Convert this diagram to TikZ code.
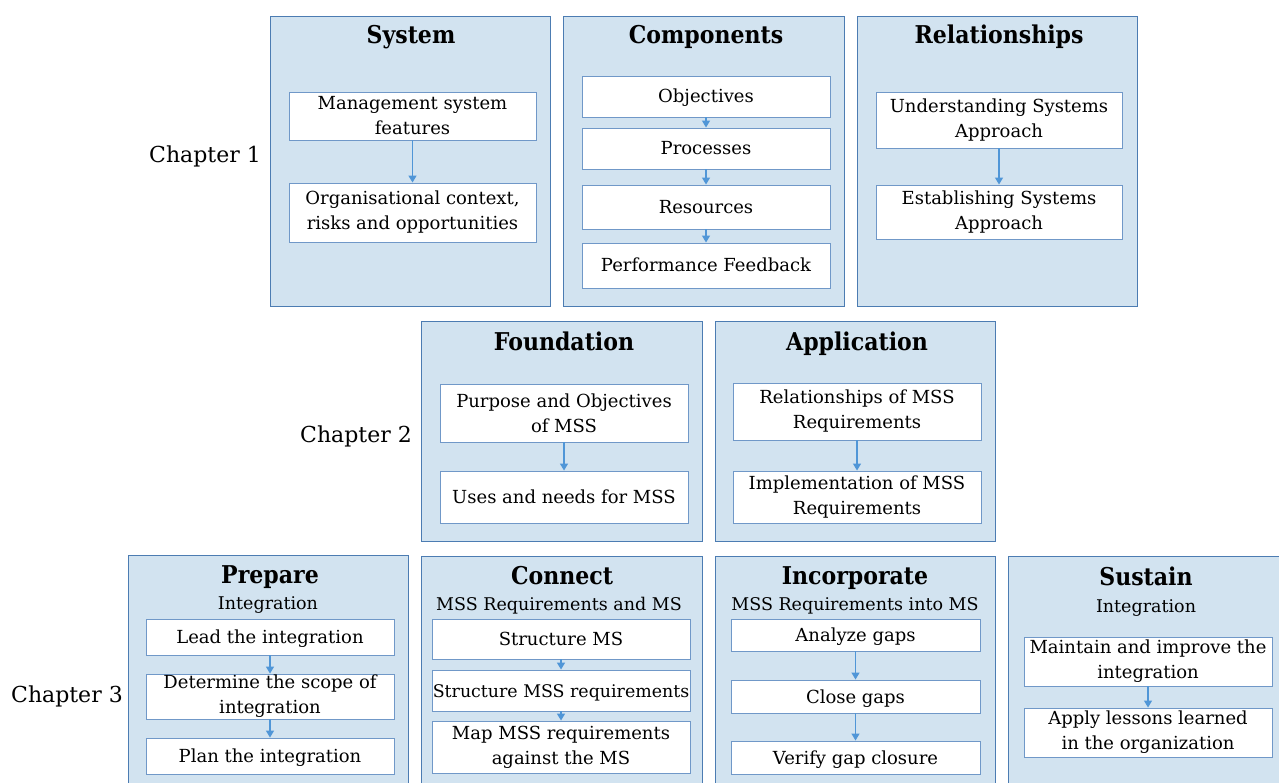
\documentclass[tikz,border=0pt]{standalone}
\usepackage{fontspec}
\setmainfont{DejaVu Serif}
\newfontfamily\ttlfont{DejaVu Serif Condensed}
\usetikzlibrary{arrows.meta}
\definecolor{panelfill}{RGB}{210,227,240}
\definecolor{panelline}{RGB}{76,124,178}
\definecolor{boxline}{RGB}{112,152,200}
\definecolor{arrowc}{RGB}{80,150,215}
\newcommand\bx[7]{\node[#6, minimum width={(#3-#2)*1pt}, minimum height={(#5-#4)*1pt}] (#1) at ({(#2+#3)/2},{(#4+#5)/2}) {#7};}
\tikzset{
  panel/.style={draw=panelline, fill=panelfill, line width=0.9pt, inner sep=0pt},
  ibox/.style={draw=boxline, fill=white, line width=0.9pt, inner sep=0pt, align=center, font=\fontsize{18}{25}\selectfont},
  one/.style={ibox, text height=13pt, text depth=0pt},
  ttl/.style={font=\ttlfont\fontsize{24.5}{28}\selectfont\bfseries, inner sep=0pt, anchor=base},
  sub/.style={font=\fontsize{17.5}{22}\selectfont, inner sep=0pt, anchor=base},
  chap/.style={font=\fontsize{22}{25}\selectfont, inner sep=0pt, anchor=base},
  flow/.style={draw=arrowc, line width=1.3pt, -{Triangle[width=8pt,length=7pt]}}
}
\begin{document}
\begin{tikzpicture}[x=1pt,y=-1pt]
\useasboundingbox (0,0) rectangle (1279,783);
\begin{scope}
\clip (0,0) rectangle (1279,783);
% panels
\bx{psys}{270}{550}{16}{306}{panel}{}
\bx{pcomp}{563}{844}{16}{306}{panel}{}
\bx{prel}{857}{1137}{16}{306}{panel}{}
\bx{pfound}{421}{702}{321}{541}{panel}{}
\bx{papp}{715}{995}{321}{541}{panel}{}
\bx{pprep}{128}{408}{555}{800}{panel}{}
\bx{pconn}{421}{702}{556}{800}{panel}{}
\bx{pinc}{715}{995}{556}{800}{panel}{}
\bx{psus}{1008}{1290}{556}{800}{panel}{}
\end{scope}
% titles
\node[ttl] (tsys) at (411,44) {System};
\node[ttl] (tcomp) at (706,44) {Components};
\node[ttl] (trel) at (999,44) {Relationships};
\node[ttl] (tfound) at (564,350) {Foundation};
\node[ttl] (tapp) at (857,350) {Application};
\node[ttl] (tprep) at (270,583) {Prepare};
\node[ttl] (tconn) at (562,584) {Connect};
\node[ttl] (tinc) at (855,584) {Incorporate};
\node[ttl] (tsus) at (1146,585) {Sustain};
\node[sub] (sprep) at (268,609) {Integration};
\node[sub] (sconn) at (559,610) {MSS Requirements and MS};
\node[sub] (sinc) at (855,610) {MSS Requirements into MS};
\node[sub] (ssus) at (1146,612) {Integration};
% chapters
\node[chap] (c1) at (205,163) {Chapter 1};
\node[chap] (c2) at (356,442) {Chapter 2};
\node[chap] (c3) at (67,702) {Chapter 3};
% inner boxes
\bx{msf}{289}{536}{92}{140}{ibox}{Management system\\features}
\bx{org}{289}{536}{183}{242}{ibox}{Organisational context,\\risks and opportunities}
\bx{obj}{582}{830}{76}{117}{one}{Objectives}
\bx{proc}{582}{830}{128}{169}{one}{Processes}
\bx{res}{582}{830}{185}{229}{one}{Resources}
\bx{perf}{582}{830}{243}{288}{one}{Performance Feedback}
\bx{usa}{876}{1122}{92}{148}{ibox}{Understanding Systems\\Approach}
\bx{esa}{876}{1122}{185}{239}{ibox}{Establishing Systems\\Approach}
\bx{pur}{440}{688}{384}{442}{ibox}{Purpose and Objectives\\of MSS}
\bx{uses}{440}{688}{471}{523}{one}{Uses and needs for MSS}
\bx{relm}{733}{981}{383}{440}{ibox}{Relationships of MSS\\Requirements}
\bx{impl}{733}{981}{471}{523}{ibox}{Implementation of MSS\\Requirements}
\bx{lead}{146}{394}{619}{655}{one}{Lead the integration}
\bx{det}{146}{394}{674}{719}{ibox}{Determine the scope of\\integration}
\bx{plan}{146}{394}{738}{774}{one}{Plan the integration}
\bx{sms}{432}{690}{619}{659}{one}{Structure MS}
\bx{smr}{432}{690}{670}{711}{one,font=\fontsize{17.4}{25}\selectfont}{Structure MSS requirements}
\bx{map}{432}{690}{721}{773}{ibox}{Map MSS requirements\\against the MS}
\bx{ana}{731}{980}{619}{651}{one}{Analyze gaps}
\bx{close}{731}{980}{680}{713}{one}{Close gaps}
\bx{ver}{731}{980}{741}{774}{one}{Verify gap closure}
\bx{maint}{1024}{1272}{637}{686}{ibox}{Maintain and improve the\\integration}
\bx{apply}{1024}{1272}{708}{757}{ibox}{Apply lessons learned\\in the organization}
% arrows
\draw[flow] (msf) -- (org);
\draw[flow] (obj) -- (proc);
\draw[flow] (proc) -- (res);
\draw[flow] (res) -- (perf);
\draw[flow] (usa) -- (esa);
\draw[flow] (pur) -- (uses);
\draw[flow] (relm) -- (impl);
\draw[flow] (lead) -- (det);
\draw[flow] (det) -- (plan);
\draw[flow] (sms) -- (smr);
\draw[flow] (smr) -- (map);
\draw[flow] (ana) -- (close);
\draw[flow] (close) -- (ver);
\draw[flow] (maint) -- (apply);
\end{tikzpicture}
\end{document}
